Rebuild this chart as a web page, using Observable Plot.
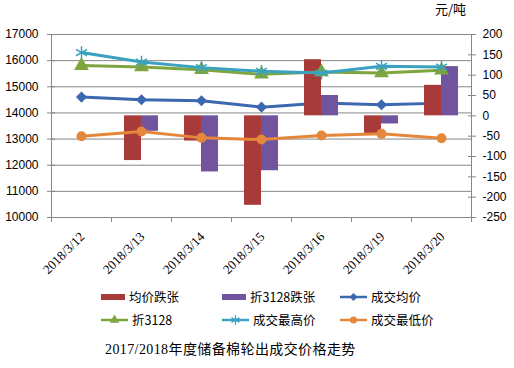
<!DOCTYPE html>
<html>
<head>
<meta charset="utf-8">
<script src="https://cdn.jsdelivr.net/npm/d3@7"></script>
<script src="https://cdn.jsdelivr.net/npm/@observablehq/plot@0.6"></script>
<style>
  body { margin: 0; background: #fff; }
  #wrap { position: relative; width: 514px; height: 368px; background: #fff; overflow: hidden; }
  #unit { position: absolute; left: 435px; top: -1px; font: 13px "Noto Sans CJK SC", sans-serif; color: #000; }
  .leg { position: absolute; font: 12.5px "Noto Sans CJK SC", sans-serif; color: #000; display: flex; align-items: center; white-space: nowrap; }
  .leg svg { margin-right: 4px; }
  #caption { position: absolute; left: 105px; top: 338px; font: 14px "Liberation Serif", "Noto Sans CJK SC", serif; color: #000; white-space: nowrap; letter-spacing: 0.4px; }
</style>
</head>
<body>
<div id="wrap">
  <div id="unit">元/吨</div>
  <div id="chart"></div>
  <div id="caption">2017/2018年度储备棉轮出成交价格走势</div>
</div>
<script>
// Categories
const dates = ["2018/3/12", "2018/3/13", "2018/3/14", "2018/3/15", "2018/3/16", "2018/3/19", "2018/3/20"];
// Secondary-axis series (元/吨 change)
const avgChange = [0, -110, -62, -220, 138, -44, 75];     // 均价跌张
const zheChange = [0, -38, -138, -135, 50, -20, 121];     // 折3128跌张
// Primary-axis series
const avgPrice = [14605, 14505, 14466, 14221, 14380, 14313, 14375]; // 成交均价
const zhe3128 = [15810, 15756, 15656, 15476, 15565, 15526, 15630];  // 折3128
const maxPrice = [16309, 15948, 15733, 15591, 15526, 15783, 15756]; // 成交最高价
const minPrice = [13108, 13289, 13046, 12982, 13135, 13200, 13030]; // 成交最低价
// Tick labels
const leftTicks = [10000, 11000, 12000, 13000, 14000, 15000, 16000, 17000];
const rightTicks = [-250, -200, -150, -100, -50, 0, 50, 100, 150, 200];

const names = ["均价跌张", "折3128跌张", "成交均价", "折3128", "成交最高价", "成交最低价"];
const colors = ["#a83a3a", "#71549e", "#3b68b0", "#7fa53f", "#3aa2c0", "#e5873a"];

const L0 = 10000, L1 = 17000, R0 = -250, R1 = 200;
const toLeft = v => L0 + (v - R0) * (L1 - L0) / (R1 - R0);
const fromLeft = v => R0 + (v - L0) * (R1 - R0) / (L1 - L0);

const idx = d3.range(dates.length);
const rows = idx.map(i => ({i, avgChange: avgChange[i], zheChange: zheChange[i], avgPrice: avgPrice[i], zhe3128: zhe3128[i], maxPrice: maxPrice[i], minPrice: minPrice[i]}));
const barW = 0.283;
const axisColor = "#868686";

const lineMarks = (key, color, symbol, r, filled) => [
  Plot.line(rows, {x: "i", y: key, stroke: color, strokeWidth: 3}),
  Plot.dot(rows, filled
    ? {x: "i", y: key, symbol, r, fill: color, stroke: "none"}
    : {x: "i", y: key, symbol, r, stroke: color, strokeWidth: 1.5, fill: "none"})
];

const chart = Plot.plot({
  width: 514,
  height: 285,
  marginLeft: 51,
  marginRight: 43,
  marginTop: 34,
  marginBottom: 68,
  style: {background: "white", fontFamily: "Liberation Sans", fontSize: "12px", color: "#000"},
  x: {type: "linear", domain: [-0.5, dates.length - 0.5]},
  y: {domain: [L0, L1]},
  marks: [
    Plot.gridY({ticks: leftTicks, stroke: axisColor, strokeOpacity: 1, strokeWidth: 1}),
    Plot.ruleX([-0.5, dates.length - 0.5], {stroke: axisColor, strokeWidth: 1}),
    Plot.ruleY([L0], {stroke: axisColor, strokeWidth: 1}),
    Plot.axisY({ticks: leftTicks, tickSize: 8, dx: 4, tickPadding: 9, tickFormat: d => String(d), label: null, stroke: axisColor, fill: "#000", fontSize: 12}),
    Plot.axisY({anchor: "right", ticks: rightTicks.map(toLeft), tickSize: 8, dx: -4, tickPadding: 7, tickFormat: d => String(Math.round(fromLeft(d))), label: null, stroke: axisColor, fill: "#000", fontSize: 12}),
    Plot.axisX({ticks: d3.range(-0.5, dates.length), tickSize: 5, tickFormat: () => "", label: null, stroke: axisColor}),
    Plot.axisX({ticks: idx, tickSize: 0, tickRotate: -45, tickPadding: 17, dx: 1, tickFormat: i => dates[i], label: null, fontFamily: "Liberation Serif", fontSize: 13, fill: "#000"}),
    ...lineMarks("avgPrice", colors[2], "diamond2", 5, true),
    Plot.rectY(rows, {x1: d => d.i - barW, x2: d => d.i, y1: toLeft(0), y2: d => toLeft(d.avgChange), fill: colors[0]}),
    Plot.rectY(rows, {x1: d => d.i, x2: d => d.i + barW, y1: toLeft(0), y2: d => toLeft(d.zheChange), fill: colors[1]}),
    ...lineMarks("zhe3128", colors[3], "triangle", 5.5, true),
    ...lineMarks("maxPrice", colors[4], "asterisk", 6, false),
    ...lineMarks("minPrice", colors[5], "circle", 5, true)
  ]
});
document.getElementById("chart").appendChild(chart);
// make sure the rotated date labels are 13px serif
d3.select(chart).selectAll("text")
  .filter(function() { return dates.includes(this.textContent); })
  .style("font-size", "13px")
  .style("font-family", "'Liberation Serif', serif");

// Legend
const wrap = document.getElementById("wrap");
const legPos = [[101, 296], [222, 296], [340, 296], [101, 319], [222, 319], [340, 319]];
const legType = ["bar", "bar", "diamond2", "triangle", "asterisk", "circle"];
names.forEach((name, k) => {
  const div = document.createElement("div");
  div.className = "leg";
  div.style.left = legPos[k][0] + "px";
  div.style.top = (legPos[k][1] - 9) + "px";
  const sw = legType[k] === "bar" ? 24 : 27;
  const svg = d3.create("svg").attr("width", sw).attr("height", 18);
  const c = colors[k];
  if (legType[k] === "bar") {
    svg.append("rect").attr("x", 0).attr("y", 6).attr("width", 24).attr("height", 6).attr("fill", c);
  } else {
    svg.append("line").attr("x1", 0).attr("x2", 27).attr("y1", 9).attr("y2", 9).attr("stroke", c).attr("stroke-width", 2.5);
    const symMap = {diamond2: d3.symbolDiamond2, triangle: d3.symbolTriangle, asterisk: d3.symbolAsterisk, circle: d3.symbolCircle};
    const sym = d3.symbol(symMap[legType[k]], legType[k] === "asterisk" ? 60 : 40)();
    const p = svg.append("path").attr("d", sym).attr("transform", "translate(13.5,9)");
    if (legType[k] === "asterisk") p.attr("fill", "none").attr("stroke", c).attr("stroke-width", 1.3);
    else p.attr("fill", c);
  }
  div.appendChild(svg.node());
  const span = document.createElement("span");
  span.textContent = name;
  div.appendChild(span);
  wrap.appendChild(div);
});
</script>
</body>
</html>
